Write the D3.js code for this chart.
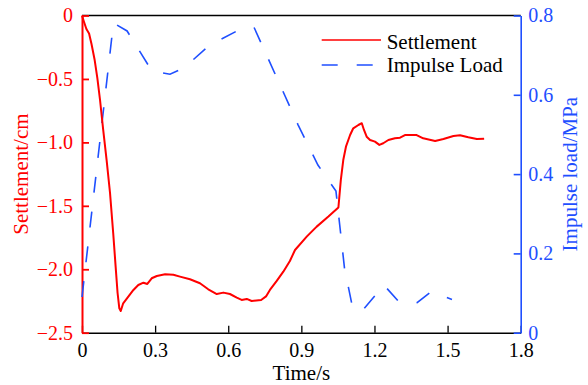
<!DOCTYPE html>
<html>
<head>
<meta charset="utf-8">
<script src="https://cdn.jsdelivr.net/npm/d3@7"></script>
<style>
  html, body { margin: 0; padding: 0; background: #fff; }
  svg { display: block; }
  text { font-family: "Liberation Serif", "Times New Roman", serif; }
</style>
</head>
<body>
<svg id="chart" width="588" height="385"></svg>
<script>
// Settlement curve: time (s) and settlement (cm)
const settlementTime = [
  0, 0.008, 0.018, 0.029, 0.039, 0.052, 0.063, 0.074, 0.087, 0.101,
  0.115, 0.128, 0.138, 0.146, 0.153, 0.159, 0.169, 0.190, 0.211, 0.231,
  0.252, 0.268, 0.286, 0.307, 0.341, 0.375, 0.402, 0.443, 0.484, 0.518,
  0.553, 0.580, 0.607, 0.635, 0.655, 0.676, 0.696, 0.735, 0.755, 0.771,
  0.799, 0.826, 0.853, 0.874, 0.922, 0.963, 1.011, 1.052, 1.062, 1.072,
  1.083, 1.100, 1.113, 1.134, 1.148, 1.157, 1.168, 1.182, 1.202, 1.220,
  1.236, 1.257, 1.284, 1.305, 1.325, 1.373, 1.400, 1.449, 1.483, 1.524,
  1.551, 1.585, 1.620, 1.650
];
const settlementValue = [
  0, -0.049, -0.106, -0.142, -0.225, -0.351, -0.493, -0.666, -0.902, -1.139,
  -1.399, -1.714, -1.979, -2.187, -2.307, -2.329, -2.268, -2.216, -2.163, -2.124,
  -2.106, -2.116, -2.071, -2.053, -2.039, -2.043, -2.058, -2.079, -2.110, -2.158,
  -2.195, -2.184, -2.195, -2.224, -2.242, -2.234, -2.250, -2.242, -2.214, -2.163,
  -2.092, -2.019, -1.935, -1.848, -1.743, -1.664, -1.585, -1.513, -1.296, -1.139,
  -1.034, -0.942, -0.889, -0.863, -0.849, -0.902, -0.955, -0.981, -0.994, -1.020,
  -1.007, -0.981, -0.968, -0.963, -0.942, -0.942, -0.968, -0.989, -0.973, -0.950,
  -0.944, -0.960, -0.973, -0.971
];

// Impulse load: time (s) and load (MPa)
const loadTime = [
  0, 0.129, 0.185, 0.287, 0.361, 0.419, 0.521, 0.636, 0.706, 0.886,
  0.968, 1.042, 1.077, 1.108, 1.145, 1.239, 1.297, 1.375, 1.432, 1.518
];
const loadValue = [
  0.090, 0.781, 0.761, 0.660, 0.652, 0.668, 0.724, 0.761, 0.770, 0.525,
  0.423, 0.357, 0.163, 0.070, 0.052, 0.120, 0.080, 0.076, 0.103, 0.084
];

// Axis ticks
const timeTicks = [0, 0.3, 0.6, 0.9, 1.2, 1.5, 1.8];
const timeTickLabels = ["0", "0.3", "0.6", "0.9", "1.2", "1.5", "1.8"];
const settlementTicks = [0, -0.5, -1.0, -1.5, -2.0, -2.5];
const settlementTickLabels = ["0", "\u22120.5", "\u22121.0", "\u22121.5", "\u22122.0", "\u22122.5"];
const loadTicks = [0, 0.2, 0.4, 0.6, 0.8];
const loadTickLabels = ["0", "0.2", "0.4", "0.6", "0.8"];

const seriesNames = ["Settlement", "Impulse Load"];

const RED = "#ff0000";
const BLUE = "#1f4fff";

const svg = d3.select("#chart");
const margin = { left: 82, right: 588 - 520.7, top: 15.5, bottom: 385 - 332.7 };
const W = 588, H = 385;

const x = d3.scaleLinear().domain([0, 1.8]).range([margin.left, W - margin.right]);
const yL = d3.scaleLinear().domain([-2.5, 0]).range([H - margin.bottom, margin.top]);
const yR = d3.scaleLinear().domain([0, 0.8]).range([H - margin.bottom, margin.top]);

// top frame line
svg.append("line")
  .attr("x1", x(0)).attr("x2", x(1.8))
  .attr("y1", yL(0)).attr("y2", yL(0))
  .attr("stroke", "#000").attr("stroke-width", 1.5);

// bottom axis
const gx = svg.append("g")
  .attr("transform", `translate(0,${yL(-2.5)})`)
  .call(d3.axisBottom(x).tickValues(timeTicks)
    .tickFormat((d, i) => timeTickLabels[i])
    .tickSizeInner(-7).tickSizeOuter(0).tickPadding(10));
gx.select(".domain").attr("stroke", "#000").attr("stroke-width", 1.5);
gx.selectAll(".tick line").attr("stroke", "#000").attr("stroke-width", 1.3);
gx.selectAll(".tick text").attr("fill", "#000").attr("font-size", 20)
  .attr("font-family", "Liberation Serif");

// left axis
const gl = svg.append("g")
  .attr("transform", `translate(${x(0)},0)`)
  .call(d3.axisLeft(yL).tickValues(settlementTicks)
    .tickFormat((d, i) => settlementTickLabels[i])
    .tickSizeInner(-7).tickSizeOuter(0).tickPadding(9));
gl.select(".domain").attr("stroke", RED).attr("stroke-width", 2);
gl.selectAll(".tick line").attr("stroke", RED).attr("stroke-width", 1.8);
gl.selectAll(".tick text").attr("fill", RED).attr("font-size", 20)
  .attr("font-family", "Liberation Serif");

// right axis
const gr = svg.append("g")
  .attr("transform", `translate(${x(1.8)},0)`)
  .call(d3.axisRight(yR).tickValues(loadTicks)
    .tickFormat((d, i) => loadTickLabels[i])
    .tickSizeInner(-7).tickSizeOuter(0).tickPadding(7.5));
gr.select(".domain").attr("stroke", BLUE).attr("stroke-width", 1.6);
gr.selectAll(".tick line").attr("stroke", BLUE).attr("stroke-width", 1.6);
gr.selectAll(".tick text").attr("fill", BLUE).attr("font-size", 20)
  .attr("font-family", "Liberation Serif");

// axis titles
svg.append("text")
  .attr("x", (x(0) + x(1.8)) / 2).attr("y", 380)
  .attr("text-anchor", "middle").attr("font-size", 21).attr("fill", "#000")
  .text("Time/s");
svg.append("text")
  .attr("transform", `translate(28,${(yL(0) + yL(-2.5)) / 2}) rotate(-90)`)
  .attr("text-anchor", "middle").attr("font-size", 21).attr("fill", RED)
  .text("Settlement/cm");
svg.append("text")
  .attr("transform", `translate(577,${(yR(0) + yR(0.8)) / 2}) rotate(-90)`)
  .attr("text-anchor", "middle").attr("font-size", 21).attr("fill", BLUE)
  .text("Impulse load/MPa");

// series
const settlementData = settlementTime.map((t, i) => [t, settlementValue[i]]);
const loadData = loadTime.map((t, i) => [t, loadValue[i]]);

svg.append("path")
  .datum(loadData)
  .attr("fill", "none").attr("stroke", BLUE).attr("stroke-width", 1.6)
  .attr("stroke-dasharray", "16,19")
  .attr("d", d3.line().x(d => x(d[0])).y(d => yR(d[1])));

svg.append("path")
  .datum(settlementData)
  .attr("fill", "none").attr("stroke", RED).attr("stroke-width", 2)
  .attr("stroke-linejoin", "round")
  .attr("d", d3.line().x(d => x(d[0])).y(d => yL(d[1])));

// legend
const legend = svg.append("g");
legend.append("line")
  .attr("x1", 321.7).attr("x2", 381).attr("y1", 40).attr("y2", 40)
  .attr("stroke", RED).attr("stroke-width", 1.6);
legend.append("text")
  .attr("x", 386.7).attr("y", 48.5).attr("font-size", 21).attr("fill", "#000")
  .text(seriesNames[0]);
legend.append("line")
  .attr("x1", 321.7).attr("x2", 381).attr("y1", 65).attr("y2", 65)
  .attr("stroke", BLUE).attr("stroke-width", 1.6).attr("stroke-dasharray", "16,19");
legend.append("text")
  .attr("x", 386.7).attr("y", 72).attr("font-size", 21).attr("fill", "#000")
  .text(seriesNames[1]);
</script>
</body>
</html>
